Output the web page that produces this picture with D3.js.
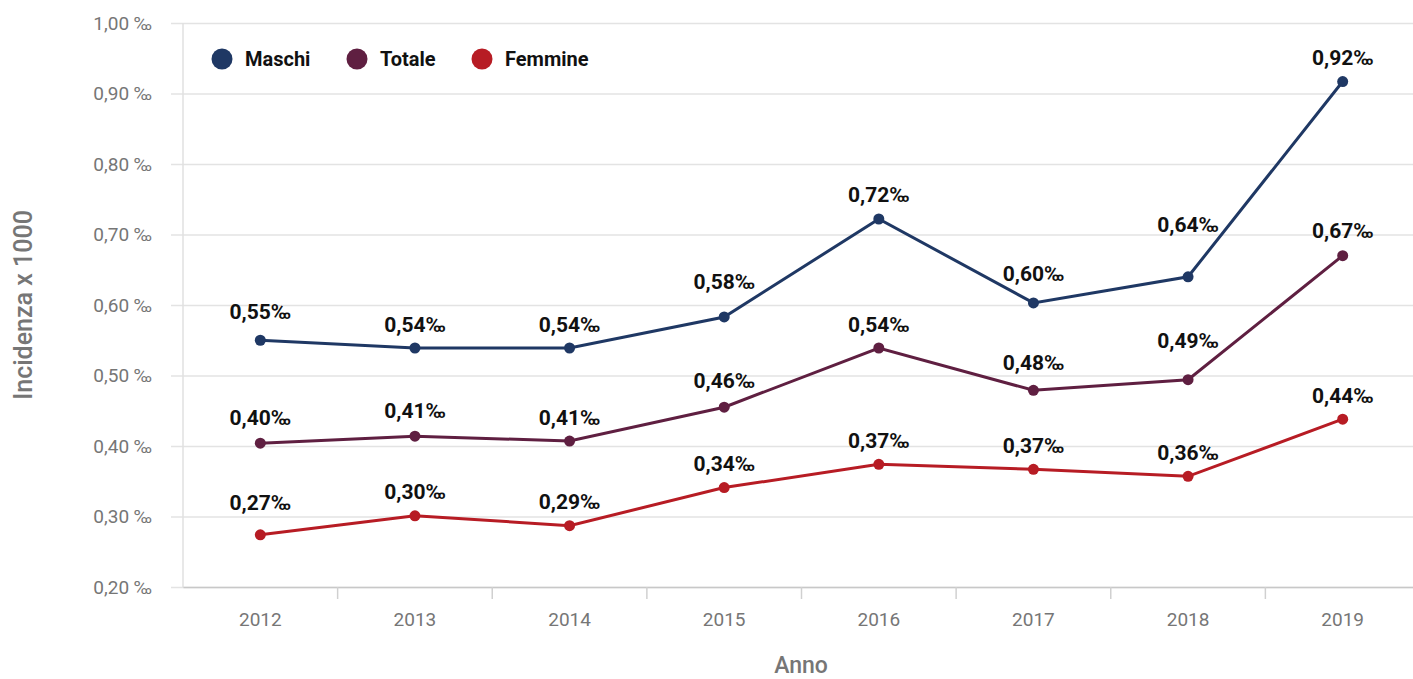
<!DOCTYPE html>
<html>
<head>
<meta charset="utf-8">
<script src="https://cdn.jsdelivr.net/npm/d3@7"></script>
<style>
  body { margin: 0; background: #fff; font-family: Roboto, sans-serif; }
</style>
</head>
<body>
<div class="chart"></div>
<script>
const years = ["2012", "2013", "2014", "2015", "2016", "2017", "2018", "2019"];
const maschi = [0.550, 0.539, 0.539, 0.583, 0.722, 0.603, 0.640, 0.917];
const totale = [0.404, 0.414, 0.407, 0.455, 0.539, 0.479, 0.494, 0.670];
const femmine = [0.274, 0.301, 0.287, 0.341, 0.374, 0.367, 0.357, 0.438];
const yTicks = [0.2, 0.3, 0.4, 0.5, 0.6, 0.7, 0.8, 0.9, 1.0];

// extra lift for labels that sit away from the line
const liftMaschi = [5, 0, 0, 11, 0, 5, 28, 0];
const liftTotale = [2, 2, 0, 3, 0, 4, 15, 1];
const liftFemmine = [8, 0, 0, 0, 0, 0, 0, 0];

const series = [
  { name: "Maschi", values: maschi, lift: liftMaschi, color: "#1f3864" },
  { name: "Totale", values: totale, lift: liftTotale, color: "#5f1f41" },
  { name: "Femmine", values: femmine, lift: liftFemmine, color: "#b71c24" }
];

const width = 1413, height = 679;
const padLeft = 183, padRight = 1420, padTop = 23, padBottom = 587;

const svg = d3.select(".chart").append("svg")
  .attr("width", width)
  .attr("height", height);

const x = d3.scaleBand().domain(years).range([padLeft, padRight]);
const y = d3.scaleLinear().domain([0.2, 1.0]).range([padBottom, padTop]);

const fmt = v => d3.format(".2f")(v).replace(".", ",");

// grid + y axis
const yAxis = d3.axisLeft(y).tickValues(yTicks).tickSize(-(padRight - padLeft)).tickPadding(31)
  .tickFormat(d => fmt(d) + " ‰");
const gy = svg.append("g").attr("transform", `translate(${padLeft},0)`).call(yAxis);
gy.select(".domain").remove();
gy.selectAll(".tick line").attr("stroke", "#e3e3e3").attr("stroke-width", 1.5).attr("x1", -12);
gy.selectAll(".tick text").attr("fill", "#767676").style("font-size", "19px").style("font-family", "Roboto");

svg.append("line")
  .attr("x1", padLeft).attr("x2", padLeft).attr("y1", padTop).attr("y2", padBottom)
  .attr("stroke", "#e0e0e0").attr("stroke-width", 1.5);

// x axis
const xAxis = d3.axisBottom(x).tickSize(0).tickPadding(26);
const gx = svg.append("g").attr("transform", `translate(0,${padBottom})`).call(xAxis);
gx.select(".domain").attr("stroke", "#c8c8c8").attr("stroke-width", 1.5);
gx.selectAll(".tick text").attr("fill", "#767676").style("font-size", "19px").style("font-family", "Roboto");
gx.selectAll(".sep").data(years.slice(1)).enter().append("line")
  .attr("x1", d => x(d)).attr("x2", d => x(d))
  .attr("y1", 0).attr("y2", 12)
  .attr("stroke", "#d0d0d0").attr("stroke-width", 1.5);

// axis titles
svg.append("text")
  .attr("transform", `translate(32,${(padTop + padBottom) / 2}) rotate(-90)`)
  .attr("text-anchor", "middle")
  .attr("fill", "#767676")
  .style("font-size", "25px")
  .style("font-weight", "500")
  .text("Incidenza x 1000");

svg.append("text")
  .attr("x", 801).attr("y", 673)
  .attr("text-anchor", "middle")
  .attr("fill", "#767676")
  .style("font-size", "23px")
  .style("font-weight", "500")
  .text("Anno");

// lines
const line = d3.line()
  .x((d, i) => x(years[i]) + x.bandwidth() / 2)
  .y(d => y(d));

series.forEach(s => {
  const g = svg.append("g");
  g.append("path")
    .attr("d", line(s.values))
    .attr("fill", "none")
    .attr("stroke", s.color)
    .attr("stroke-width", 3);
  g.selectAll("circle").data(s.values).enter().append("circle")
    .attr("cx", (d, i) => x(years[i]) + x.bandwidth() / 2)
    .attr("cy", d => y(d))
    .attr("r", 5.5)
    .attr("fill", s.color);
  g.selectAll("text").data(s.values).enter().append("text")
    .attr("x", (d, i) => x(years[i]) + x.bandwidth() / 2)
    .attr("y", (d, i) => y(d) - 16.5 - s.lift[i])
    .attr("text-anchor", "middle")
    .attr("fill", "#111")
    .style("font-size", "21px")
    .style("font-weight", "bold")
    .text(d => fmt(d) + "‰");
});

// legend
const legendX = [222, 357, 482];
series.forEach((s, i) => {
  svg.append("circle")
    .attr("cx", legendX[i]).attr("cy", 59).attr("r", 10.5)
    .attr("fill", s.color);
  svg.append("text")
    .attr("x", legendX[i] + 23).attr("y", 66)
    .attr("fill", "#111")
    .style("font-size", "20px")
    .style("font-weight", "bold")
    .text(s.name);
});
</script>
</body>
</html>
